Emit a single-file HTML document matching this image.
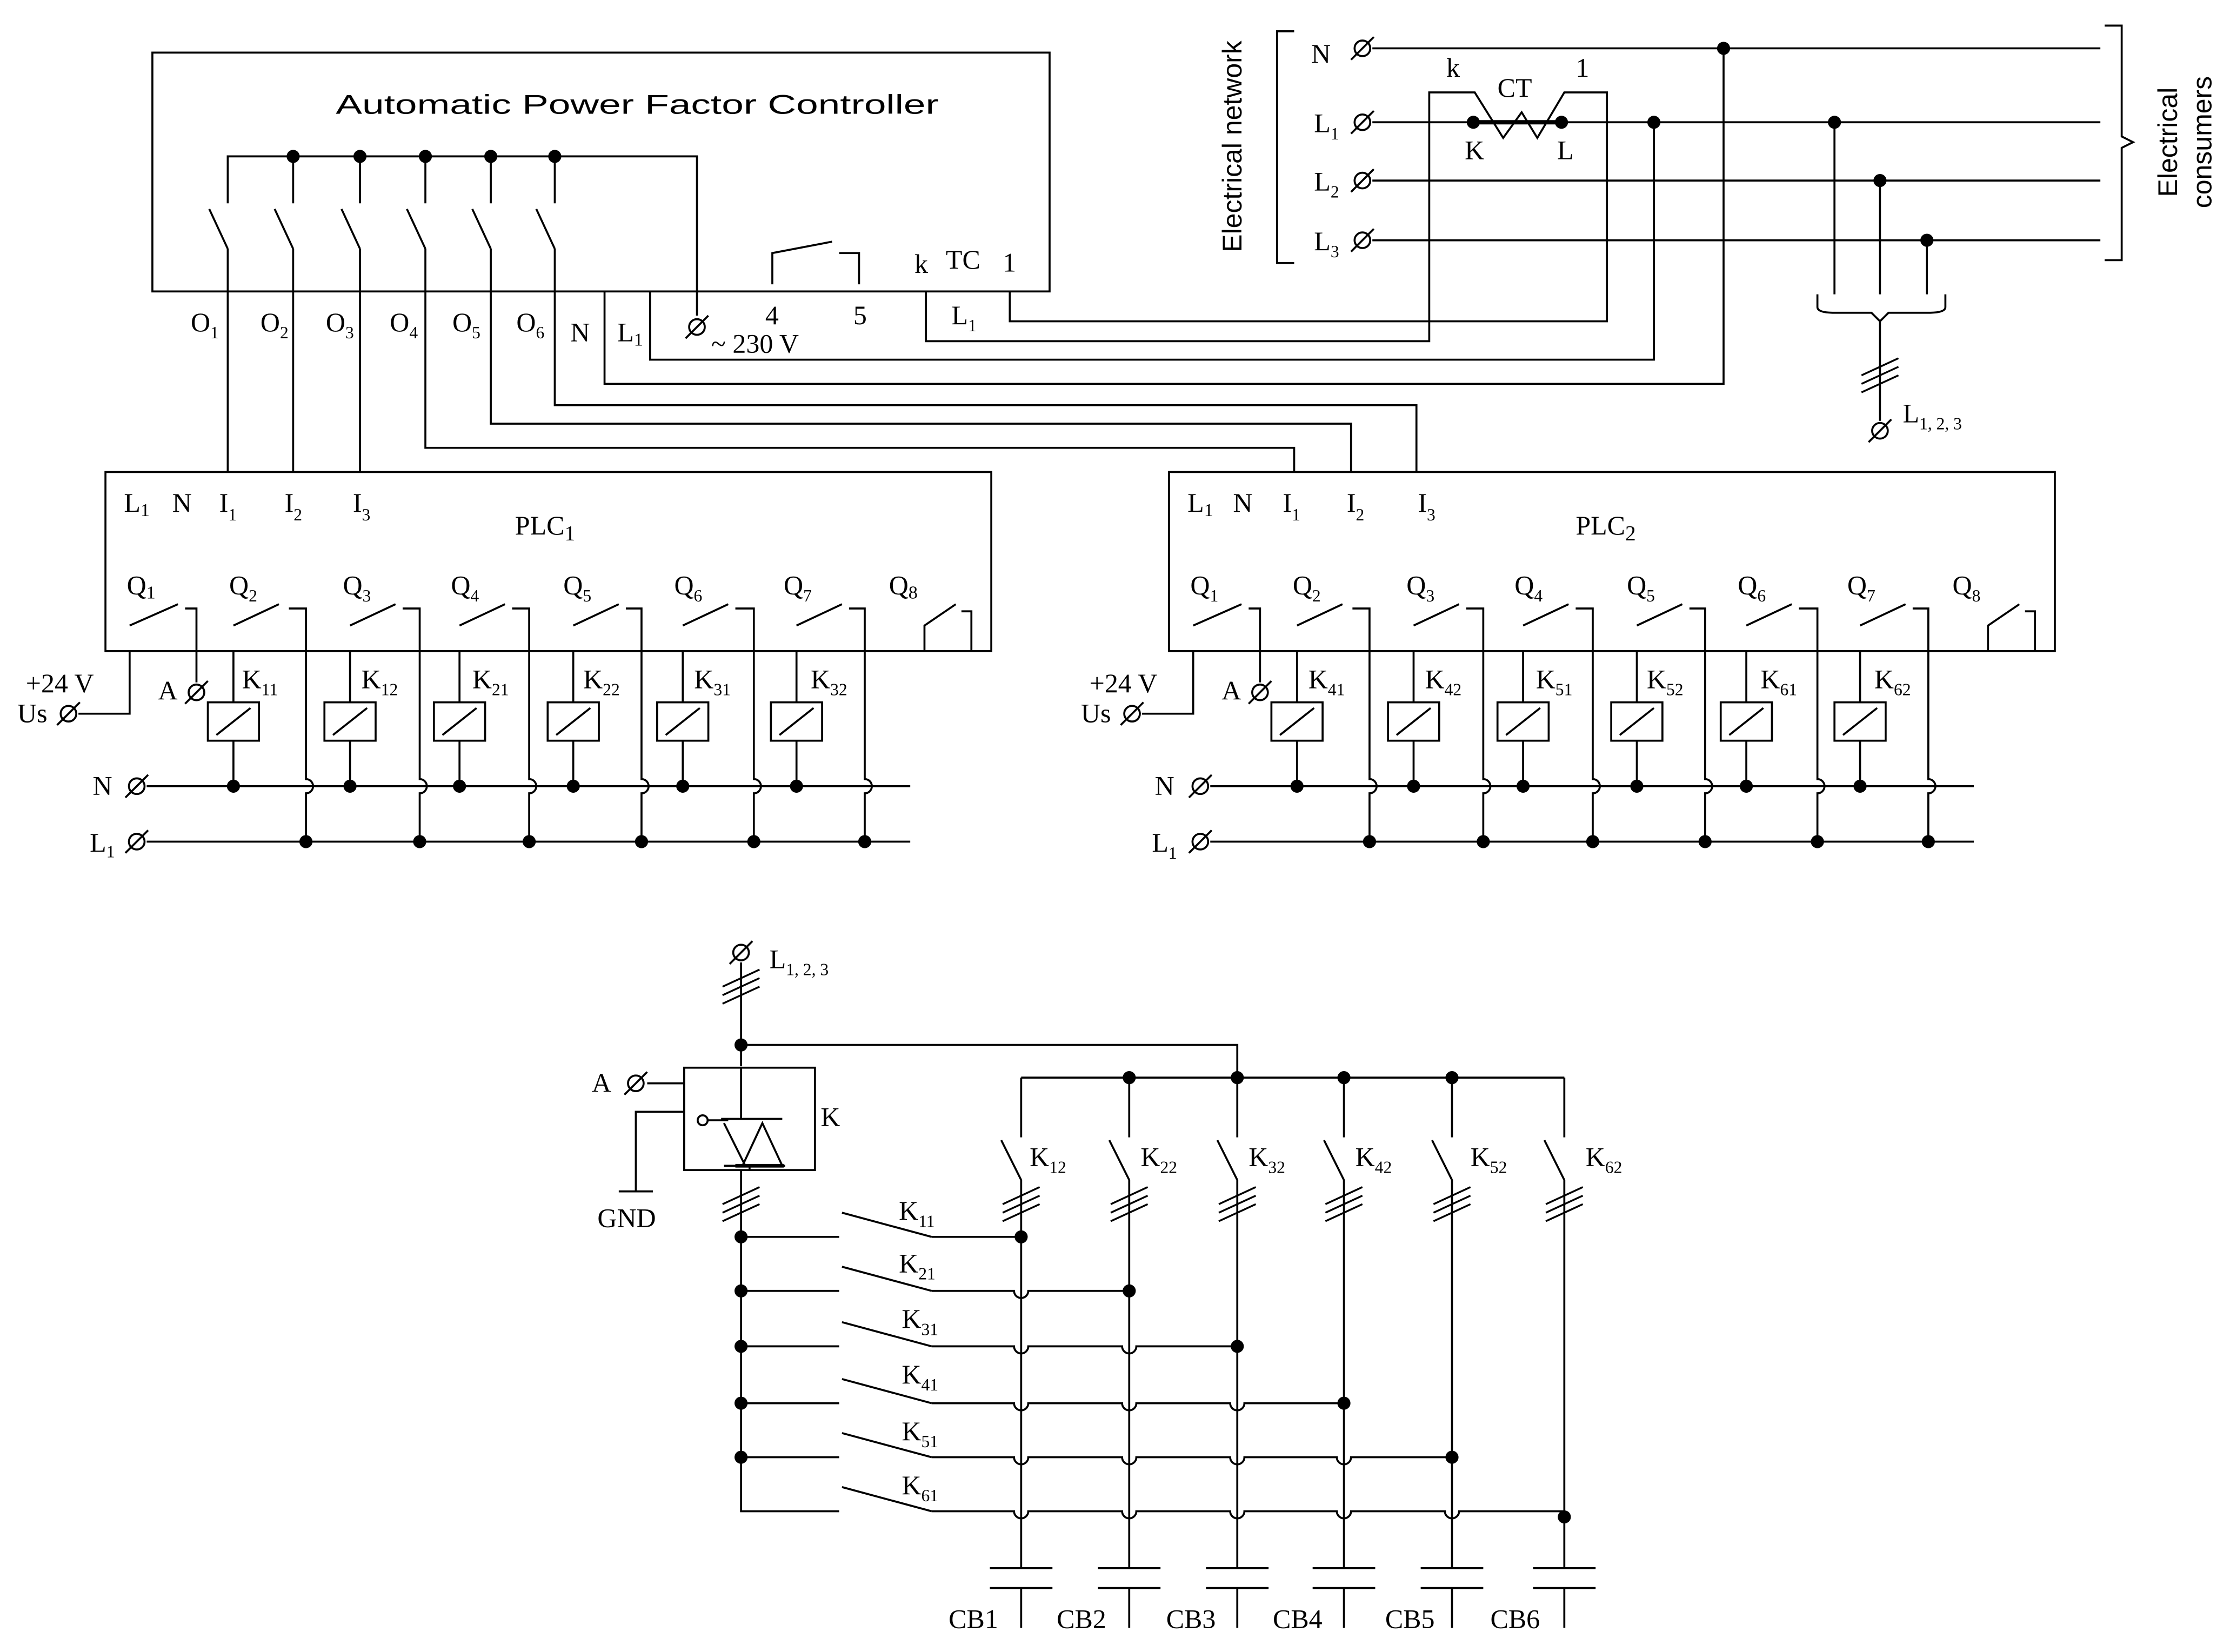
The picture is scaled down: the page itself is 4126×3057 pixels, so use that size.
<!DOCTYPE html>
<html><head><meta charset="utf-8"><style>
html,body{margin:0;padding:0;background:#fff}
svg{display:block}
text{font-family:"Liberation Serif",serif;font-size:19px;fill:#000}
.s{font-family:"Liberation Sans",sans-serif}
</style></head><body>
<svg width="4126" height="3057" viewBox="0 0 1568 1162" xmlns="http://www.w3.org/2000/svg">
<defs>
<g id="t"><circle r="5.5" fill="#fff" stroke="#000" stroke-width="1.4"/><line x1="-8" y1="8" x2="8" y2="-8" stroke="#000" stroke-width="1.4"/></g>
<circle id="d" r="4.6" fill="#000"/>
<g id="sl" stroke="#000" stroke-width="1.3"><line x1="-13" y1="11" x2="13" y2="-1"/><line x1="-13" y1="17" x2="13" y2="5"/><line x1="-13" y1="23" x2="13" y2="11"/></g>
</defs>
<rect width="1568" height="1162" fill="#fff"/>
<g fill="none" stroke="#000" stroke-width="1.4">
<rect x="107" y="37" width="631" height="168"/>
<path d="M160 143V110H490V222"/>
<path d="M206 110V143M253 110V143M299 110V143M345 110V143M390 110V143"/>
<path d="M147 147L160 175M193 147L206 175M240 147L253 175M286 147L299 175M332 147L345 175M377 147L390 175"/>
<path d="M160 175V332M206 175V332M253 175V332M299 175V315H910V332M345 175V298H950V332M390 175V285H996V332"/>
<path d="M543 200V178L585 170M590 178H604V200"/>
<path d="M425 205V270H1212V34M457 205V253H1163V86M651 205V240H1005V65H1037L1057 97L1070 79L1081 97L1100 65H1130V226H710V205"/>
<path d="M910 22H898V185H910"/>
<path d="M965 34H1477M965 86H1477M965 127H1477M965 169H1477"/>
<path d="M1036 86H1098" stroke-width="3"/>
<path d="M1480 18H1492V96L1500 100L1492 104V183H1480"/>
<path d="M1290 86V207M1322 127V207M1355 169V207"/>
<path d="M1278 207V216Q1278 220 1290 220H1316L1322 226L1328 220H1356Q1368 220 1368 216V207"/>
<path d="M1322 226V296"/>
<g id="plc">
<rect x="74" y="332" width="623" height="126"/>
<path d="M91 458V502H55M91 440L125 425M130 428H138V480"/>
<path d="M164 458V494M164 440L196 425M203 428H215V548A5 5 0 0 1 215 558V592"/>
<path d="M246 458V494M246 440L278 425M283 428H295V548A5 5 0 0 1 295 558V592"/>
<path d="M323 458V494M323 440L355 425M360 428H372V548A5 5 0 0 1 372 558V592"/>
<path d="M403 458V494M403 440L435 425M440 428H451V548A5 5 0 0 1 451 558V592"/>
<path d="M480 458V494M480 440L512 425M517 428H530V548A5 5 0 0 1 530 558V592"/>
<path d="M560 458V494M560 440L592 425M597 428H608V548A5 5 0 0 1 608 558V592"/>
<path d="M650 458V440L672 425M676 430H683V458"/>
<rect x="146" y="494" width="36" height="27"/><path d="M152 517L176 498M164 521V553"/>
<rect x="228" y="494" width="36" height="27"/><path d="M234 517L258 498M246 521V553"/>
<rect x="305" y="494" width="36" height="27"/><path d="M311 517L335 498M323 521V553"/>
<rect x="385" y="494" width="36" height="27"/><path d="M391 517L415 498M403 521V553"/>
<rect x="462" y="494" width="36" height="27"/><path d="M468 517L492 498M480 521V553"/>
<rect x="542" y="494" width="36" height="27"/><path d="M548 517L572 498M560 521V553"/>
<path d="M103 553H640M103 592H640"/>
<g stroke="none" fill="#000">
<use href="#d" x="164" y="553"/><use href="#d" x="246" y="553"/><use href="#d" x="323" y="553"/><use href="#d" x="403" y="553"/><use href="#d" x="480" y="553"/><use href="#d" x="560" y="553"/>
<use href="#d" x="215" y="592"/><use href="#d" x="295" y="592"/><use href="#d" x="372" y="592"/><use href="#d" x="451" y="592"/><use href="#d" x="530" y="592"/><use href="#d" x="608" y="592"/>
</g>
<use href="#t" x="48" y="502"/><use href="#t" x="138" y="487"/><use href="#t" x="96" y="553"/><use href="#t" x="96" y="592"/>
</g>
<use href="#plc" x="748"/>
<path d="M521 677V750M521 735H870V758M718 758H1100"/>
<path d="M718 758V800M794 758V800M870 758V800M945 758V800M1021 758V800M1100 758V800"/>
<path d="M704 802L718 830M780 802L794 830M856 802L870 830M931 802L945 830M1007 802L1021 830M1086 802L1100 830"/>
<path d="M718 830V1103M794 830V1103M870 830V1103M945 830V1103M1021 830V1103M1100 830V1103"/>
<path d="M696 1103H740M696 1117H740M718 1117V1145M772 1103H816M772 1117H816M794 1117V1145M848 1103H892M848 1117H892M870 1117V1145M923 1103H967M923 1117H967M945 1117V1145M999 1103H1043M999 1117H1043M1021 1117V1145M1078 1103H1122M1078 1117H1122M1100 1117V1145"/>
<rect x="481" y="751" width="92" height="72"/>
<path d="M521 751V787M507 787H550M509 790L524 820M522 820L536 790L550 820M509 820H552M527 820V823"/>
<path d="M517 820H551" stroke-width="2.6"/>
<circle cx="494" cy="788" r="3.5"/><path d="M497 788H512"/>
<path d="M481 762H455M481 782H447V838"/><path d="M435 838H459"/>
<path d="M521 823V1063H590"/>
<path d="M521 870H590M521 908H590M521 947H590M521 987H590M521 1025H590"/>
<path d="M592 853L655 870M592 891L655 908M592 930L655 947M592 970L655 987M592 1008L655 1025M592 1046L655 1063"/>
<path d="M655 870H718"/>
<path d="M655 908H713A5 5 0 0 0 723 908H794"/>
<path d="M655 947H713A5 5 0 0 0 723 947H789A5 5 0 0 0 799 947H870"/>
<path d="M655 987H713A5 5 0 0 0 723 987H789A5 5 0 0 0 799 987H865A5 5 0 0 0 875 987H945"/>
<path d="M655 1025H713A5 5 0 0 0 723 1025H789A5 5 0 0 0 799 1025H865A5 5 0 0 0 875 1025H940A5 5 0 0 0 950 1025H1021"/>
<path d="M655 1063H713A5 5 0 0 0 723 1063H789A5 5 0 0 0 799 1063H865A5 5 0 0 0 875 1063H940A5 5 0 0 0 950 1063H1016A5 5 0 0 0 1026 1063H1100"/>
</g>
<g fill="#000">
<use href="#d" x="206" y="110"/><use href="#d" x="253" y="110"/><use href="#d" x="299" y="110"/><use href="#d" x="345" y="110"/><use href="#d" x="390" y="110"/>
<use href="#d" x="1212" y="34"/><use href="#d" x="1163" y="86"/><use href="#d" x="1290" y="86"/><use href="#d" x="1322" y="127"/><use href="#d" x="1355" y="169"/>
<use href="#d" x="1036" y="86"/><use href="#d" x="1098" y="86"/>
<use href="#d" x="521" y="735"/><use href="#d" x="870" y="758"/><use href="#d" x="794" y="758"/><use href="#d" x="945" y="758"/><use href="#d" x="1021" y="758"/>
<use href="#d" x="521" y="870"/><use href="#d" x="521" y="908"/><use href="#d" x="521" y="947"/><use href="#d" x="521" y="987"/><use href="#d" x="521" y="1025"/>
<use href="#d" x="718" y="870"/><use href="#d" x="794" y="908"/><use href="#d" x="870" y="947"/><use href="#d" x="945" y="987"/><use href="#d" x="1021" y="1025"/><use href="#d" x="1100" y="1067"/>
</g>
<use href="#t" x="490" y="230"/>
<use href="#t" x="958" y="34"/><use href="#t" x="958" y="86"/><use href="#t" x="958" y="127"/><use href="#t" x="958" y="169"/>
<use href="#t" x="1322" y="303"/><use href="#t" x="521" y="670"/><use href="#t" x="447" y="762"/>
<use href="#sl" x="1322" y="253"/><use href="#sl" x="521" y="683"/><use href="#sl" x="521" y="836"/>
<use href="#sl" x="718" y="836"/><use href="#sl" x="794" y="836"/><use href="#sl" x="870" y="836"/><use href="#sl" x="945" y="836"/><use href="#sl" x="1021" y="836"/><use href="#sl" x="1100" y="836"/>
<text class="s" x="448" y="80" text-anchor="middle" font-size="34" textLength="424" lengthAdjust="spacingAndGlyphs">Automatic Power Factor Controller</text>
<text x="134" y="233">O<tspan dy="5" font-size="12">1</tspan></text>
<text x="183" y="233">O<tspan dy="5" font-size="12">2</tspan></text>
<text x="229" y="233">O<tspan dy="5" font-size="12">3</tspan></text>
<text x="274" y="233">O<tspan dy="5" font-size="12">4</tspan></text>
<text x="318" y="233">O<tspan dy="5" font-size="12">5</tspan></text>
<text x="363" y="233">O<tspan dy="5" font-size="12">6</tspan></text>
<text x="401" y="240">N</text><text x="434" y="240">L<tspan dy="3" font-size="13">1</tspan></text>
<text x="500" y="248">~ 230 V</text><text x="538" y="228">4</text><text x="600" y="228">5</text>
<text x="643" y="192">k</text><text x="665" y="189">TC</text><text x="705" y="191">1</text>
<text x="669" y="228">L<tspan dy="5" font-size="12">1</tspan></text>
<text x="922" y="44">N</text>
<text x="924" y="93">L<tspan dy="5" font-size="12">1</tspan></text>
<text x="924" y="134">L<tspan dy="5" font-size="12">2</tspan></text>
<text x="924" y="176">L<tspan dy="5" font-size="12">3</tspan></text>
<text x="1017" y="54">k</text><text x="1108" y="54">1</text><text x="1053" y="68">CT</text>
<text x="1030" y="112">K</text><text x="1095" y="112">L</text>
<text class="s" font-size="18" transform="translate(873 103) rotate(-90)" text-anchor="middle">Electrical network</text>
<text class="s" font-size="18" transform="translate(1531 100) rotate(-90)" text-anchor="middle">Electrical</text>
<text class="s" font-size="18" transform="translate(1555 100) rotate(-90)" text-anchor="middle">consumers</text>
<text x="1338" y="297">L<tspan dy="5" font-size="12">1, 2, 3</tspan></text>
<text x="87" y="360">L<tspan dy="3" font-size="13">1</tspan></text><text x="121" y="360">N</text>
<text x="154" y="360">I<tspan dy="6" font-size="12">1</tspan></text><text x="200" y="360">I<tspan dy="6" font-size="12">2</tspan></text><text x="248" y="360">I<tspan dy="6" font-size="12">3</tspan></text>
<text x="362" y="376">PLC<tspan dy="4" font-size="15">1</tspan></text>
<text x="89" y="418">Q<tspan dy="3" font-size="13">1</tspan></text>
<text x="161" y="418">Q<tspan dy="5" font-size="12">2</tspan></text>
<text x="241" y="418">Q<tspan dy="5" font-size="12">3</tspan></text>
<text x="317" y="418">Q<tspan dy="5" font-size="12">4</tspan></text>
<text x="396" y="418">Q<tspan dy="5" font-size="12">5</tspan></text>
<text x="474" y="418">Q<tspan dy="5" font-size="12">6</tspan></text>
<text x="551" y="418">Q<tspan dy="5" font-size="12">7</tspan></text>
<text x="625" y="418">Q<tspan dy="3" font-size="13">8</tspan></text>
<text x="18" y="487">+24 V</text><text x="12" y="508">Us</text><text x="111" y="492">A</text>
<text x="170" y="484">K<tspan dy="5" font-size="12">11</tspan></text>
<text x="254" y="484">K<tspan dy="5" font-size="12">12</tspan></text>
<text x="332" y="484">K<tspan dy="5" font-size="12">21</tspan></text>
<text x="410" y="484">K<tspan dy="5" font-size="12">22</tspan></text>
<text x="488" y="484">K<tspan dy="5" font-size="12">31</tspan></text>
<text x="570" y="484">K<tspan dy="5" font-size="12">32</tspan></text>
<text x="65" y="559">N</text><text x="63" y="599">L<tspan dy="4" font-size="12">1</tspan></text>
<text x="835" y="360">L<tspan dy="3" font-size="13">1</tspan></text><text x="867" y="360">N</text>
<text x="902" y="360">I<tspan dy="6" font-size="12">1</tspan></text><text x="947" y="360">I<tspan dy="6" font-size="12">2</tspan></text><text x="997" y="360">I<tspan dy="6" font-size="12">3</tspan></text>
<text x="1108" y="376">PLC<tspan dy="4" font-size="15">2</tspan></text>
<text x="837" y="418">Q<tspan dy="5" font-size="12">1</tspan></text>
<text x="909" y="418">Q<tspan dy="5" font-size="12">2</tspan></text>
<text x="989" y="418">Q<tspan dy="5" font-size="12">3</tspan></text>
<text x="1065" y="418">Q<tspan dy="5" font-size="12">4</tspan></text>
<text x="1144" y="418">Q<tspan dy="5" font-size="12">5</tspan></text>
<text x="1222" y="418">Q<tspan dy="5" font-size="12">6</tspan></text>
<text x="1299" y="418">Q<tspan dy="5" font-size="12">7</tspan></text>
<text x="1373" y="418">Q<tspan dy="5" font-size="12">8</tspan></text>
<text x="766" y="487">+24 V</text><text x="760" y="508">Us</text><text x="859" y="492">A</text>
<text x="920" y="484">K<tspan dy="5" font-size="12">41</tspan></text>
<text x="1002" y="484">K<tspan dy="5" font-size="12">42</tspan></text>
<text x="1080" y="484">K<tspan dy="5" font-size="12">51</tspan></text>
<text x="1158" y="484">K<tspan dy="5" font-size="12">52</tspan></text>
<text x="1238" y="484">K<tspan dy="5" font-size="12">61</tspan></text>
<text x="1318" y="484">K<tspan dy="5" font-size="12">62</tspan></text>
<text x="812" y="559">N</text><text x="810" y="599">L<tspan dy="5" font-size="12">1</tspan></text>
<text x="541" y="681">L<tspan dy="5" font-size="12">1, 2, 3</tspan></text>
<text x="416" y="768">A</text><text x="577" y="792">K</text><text x="420" y="863">GND</text>
<text x="724" y="820">K<tspan dy="5" font-size="12">12</tspan></text>
<text x="802" y="820">K<tspan dy="5" font-size="12">22</tspan></text>
<text x="878" y="820">K<tspan dy="5" font-size="12">32</tspan></text>
<text x="953" y="820">K<tspan dy="5" font-size="12">42</tspan></text>
<text x="1034" y="820">K<tspan dy="5" font-size="12">52</tspan></text>
<text x="1115" y="820">K<tspan dy="5" font-size="12">62</tspan></text>
<text x="632" y="858">K<tspan dy="5" font-size="12">11</tspan></text>
<text x="632" y="895">K<tspan dy="5" font-size="12">21</tspan></text>
<text x="634" y="934">K<tspan dy="5" font-size="12">31</tspan></text>
<text x="634" y="973">K<tspan dy="5" font-size="12">41</tspan></text>
<text x="634" y="1013">K<tspan dy="5" font-size="12">51</tspan></text>
<text x="634" y="1051">K<tspan dy="5" font-size="12">61</tspan></text>
<text x="667" y="1145">CB1</text><text x="743" y="1145">CB2</text><text x="820" y="1145">CB3</text>
<text x="895" y="1145">CB4</text><text x="974" y="1145">CB5</text><text x="1048" y="1145">CB6</text>
</svg>
</body></html>
